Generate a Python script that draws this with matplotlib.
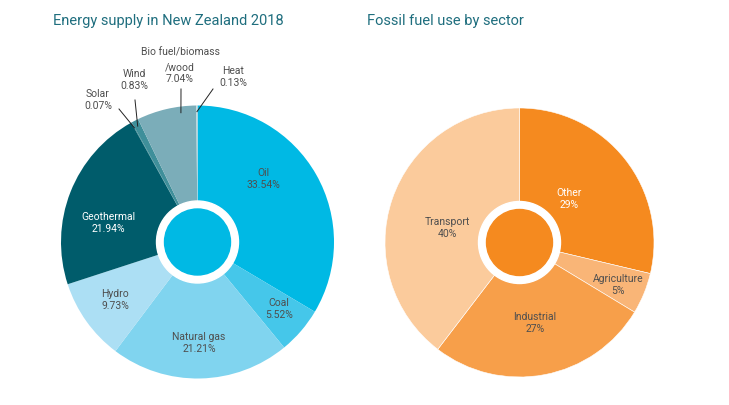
import matplotlib
matplotlib.use('Agg')
import matplotlib.pyplot as plt
from matplotlib.patches import Circle
import numpy as np

plt.rcParams['font.family'] = ['Roboto', 'DejaVu Sans']

# energy supply (left)
energy_labels = ['Oil', 'Coal', 'Natural gas', 'Hydro', 'Geothermal',
                 'Solar', 'Wind', 'Bio fuel/biomass\n/wood', 'Heat']
energy_values = [33.54, 5.52, 21.21, 9.73, 21.94, 0.07, 0.83, 7.04, 0.13]
energy_colors = ['#00b9e4', '#45c7ea', '#80d4ef', '#acdff4', '#005c6b',
                 '#17707c', '#3f8f9a', '#7badb9', '#c9d9dd']

# fossil fuel use (right)
fossil_labels = ['Other', 'Agriculture', 'Industrial', 'Transport']
fossil_values = [29, 5, 27, 40]
fossil_colors = ['#f58a1f', '#f9b577', '#f79f4a', '#fbcb9c']

W, H = 729, 405
fig = plt.figure(figsize=(W / 100, H / 100), dpi=100)
ax = fig.add_axes([0, 0, 1, 1])

def py(y):
    # pixel row -> data y
    return H - y

left_c = (197.5, py(242))
right_c = (519.5, py(242.5))
R_left, R_right = 136.5, 134.5

ax.pie(energy_values, colors=energy_colors, startangle=90, counterclock=False,
       center=left_c, radius=R_left, frame=True,
       wedgeprops=dict(linewidth=0))
ax.pie(fossil_values, colors=fossil_colors, startangle=90, counterclock=False,
       center=right_c, radius=R_right, frame=True,
       wedgeprops=dict(linewidth=0.4, edgecolor='white'))

# white ring + coloured centre
for c, col in [(left_c, '#00b9e4'), (right_c, '#f58a1f')]:
    ax.add_patch(Circle(c, 41, color='white', zorder=5))
    ax.add_patch(Circle(c, 33, color=col, zorder=6))

txt = '#4f4f4f'
fs = 7.5

def pct(v):
    return f'{v:.2f}%'

# inside labels for the energy pie
inside_pos = {'Oil': (263, 179), 'Coal': (279, 309), 'Natural gas': (199, 343),
              'Hydro': (115, 300), 'Geothermal': (108, 223)}
for lab, v in zip(energy_labels, energy_values):
    if lab in inside_pos:
        x, y = inside_pos[lab]
        col = 'white' if lab == 'Geothermal' else txt
        ax.text(x, py(y), f'{lab}\n{pct(v)}', ha='center', va='center',
                fontsize=fs, color=col, linespacing=1.25)

# outside labels with leader lines (text pos, line start, place in wedge)
outside = {'Solar': ((98, 100), (119, 109), 0.5),
           'Wind': ((134, 80), (135, 100), 0.5),
           'Bio fuel/biomass\n/wood': ((180, 73), (181, 89), 0.73),
           'Heat': ((233, 77), (213, 89), 0.5)}
total = sum(energy_values)
cum = np.concatenate([[0], np.cumsum(energy_values)])
for i, (lab, v) in enumerate(zip(energy_labels, energy_values)):
    if lab not in outside:
        continue
    (tx, ty), (lx, ly), frac = outside[lab]
    a = np.deg2rad(90 - 360 * (cum[i] + frac * v) / total)
    r = 0.955 * R_left
    ex, ey = left_c[0] + r * np.cos(a), left_c[1] + r * np.sin(a)
    ax.plot([lx, ex], [py(ly), ey], color='#222222', lw=0.7, zorder=7)
    lines = lab.split('\n')
    if len(lines) > 1:
        # long first line set on its own so the block stays narrow
        ax.text(tx + 1, py(ty - 20), lines[0], ha='center', va='center',
                fontsize=fs, color=txt)
        body = '\n'.join(lines[1:]) + '\n' + pct(v)
    else:
        body = f'{lab}\n{pct(v)}'
    ax.text(tx, py(ty), body, ha='center', va='center',
            fontsize=fs, color=txt, linespacing=1.2)

# fossil labels
fossil_pos = {'Other': (569, 199), 'Agriculture': (618, 285),
              'Industrial': (535, 323), 'Transport': (447, 228)}
for lab, v in zip(fossil_labels, fossil_values):
    x, y = fossil_pos[lab]
    col = 'white' if lab == 'Other' else txt
    ax.text(x, py(y), f'{lab}\n{v}%', ha='center', va='center',
            fontsize=fs, color=col, linespacing=1.25)

title_col = '#1f6e7e'
ax.text(53, py(21), 'Energy supply in New Zealand 2018', ha='left',
        va='center', fontsize=10.5, color=title_col)
ax.text(367, py(21), 'Fossil fuel use by sector', ha='left',
        va='center', fontsize=10.5, color=title_col)

ax.set_xlim(0, W)
ax.set_ylim(0, H)
ax.set_aspect('equal')
ax.axis('off')

fig.savefig('out.png', dpi=100, facecolor='white')
